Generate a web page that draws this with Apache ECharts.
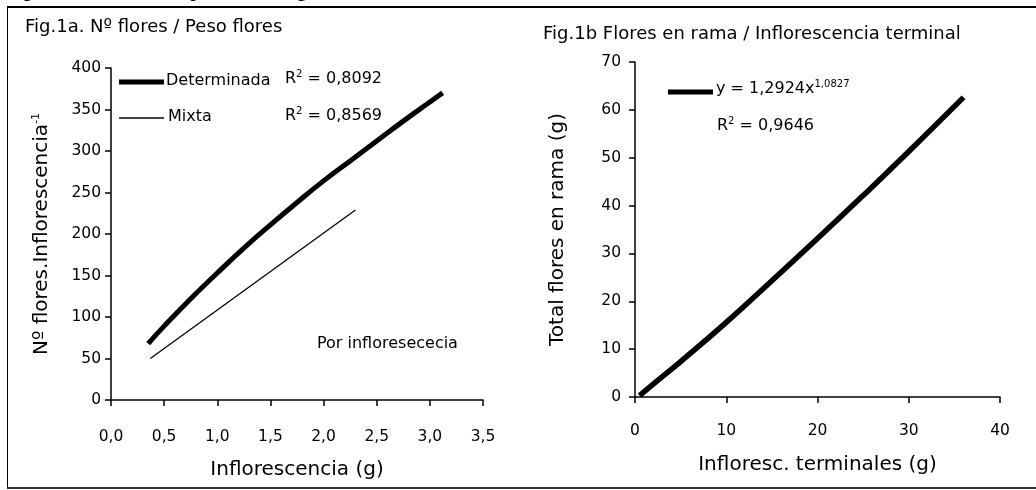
<!DOCTYPE html>
<html><head><meta charset="utf-8">
<script src="https://cdn.jsdelivr.net/npm/echarts@6/dist/echarts.min.js"></script>
<style>html,body{margin:0;padding:0;background:#fff}#c{width:1036px;height:490px}</style>
</head><body><div id="c"></div>
<script>
// Fig.1a data
const detX = [0.35, 0.5, 0.75, 1.0, 1.25, 1.5, 1.75, 2.0, 2.25, 2.5, 2.75, 3.0, 3.12];
const detY = [68, 89, 122, 153, 183, 211, 238, 264, 288, 312, 336, 359, 370];
const mixX = [0.37, 2.3];
const mixY = [50, 229];
// Fig.1b data
const terX = [0.5, 2, 5, 10, 15, 20, 25, 30, 36];
const terY = [0.3, 2.7, 7.4, 15.6, 24.3, 33.1, 42.1, 51.3, 62.6];
// tick labels
const xTicksA = ['0,0','0,5','1,0','1,5','2,0','2,5','3,0','3,5'];

const F = '"DejaVu Sans", Verdana, sans-serif';
const chart = echarts.init(document.getElementById('c'));
const pair = (xs, ys) => xs.map((x, i) => [x, ys[i]]);
const axisCommon = {
  axisLine: {lineStyle: {color: '#000', width: 1.5}},
  axisTick: {length: 6, lineStyle: {color: '#000', width: 1.5}},
  splitLine: {show: false},
  axisLabel: {color: '#000', fontFamily: F, fontSize: 15.5}
};
const rich = {
  n: {fontFamily: F, fontSize: 16, color: '#000'},
  s: {fontFamily: F, fontSize: 10, color: '#000', verticalAlign: 'top', padding: [0, 0, 9, 0]}
};
const nameStyle = {fontFamily: F, fontSize: 20, color: '#000'};
chart.setOption({
  animation: false,
  grid: [
    {left: 111, right: 553, top: 68, bottom: 90},
    {left: 635, right: 36, top: 62, bottom: 93}
  ],
  xAxis: [
    Object.assign({}, axisCommon, {gridIndex: 0, type: 'value', min: 0, max: 3.5, interval: 0.5,
      axisLabel: Object.assign({}, axisCommon.axisLabel, {margin: 29, formatter: v => xTicksA[Math.round(v / 0.5)]}),
      name: 'Inflorescencia (g)', nameLocation: 'middle', nameGap: 60, nameTextStyle: nameStyle}),
    Object.assign({}, axisCommon, {gridIndex: 1, type: 'value', min: 0, max: 40, interval: 10,
      axisLabel: Object.assign({}, axisCommon.axisLabel, {margin: 26}),
      name: 'Infloresc. terminales (g)', nameLocation: 'middle', nameGap: 58, nameTextStyle: nameStyle})
  ],
  yAxis: [
    Object.assign({}, axisCommon, {gridIndex: 0, type: 'value', min: 0, max: 400, interval: 50,
      axisLabel: Object.assign({}, axisCommon.axisLabel, {margin: 10}),
      name: '{a|Nº flores.Inflorescencia}{b|-1}', nameLocation: 'middle', nameGap: 58,
      nameTextStyle: {rich: {
        a: {fontFamily: F, fontSize: 20, color: '#000'},
        b: {fontFamily: F, fontSize: 11, color: '#000', verticalAlign: 'top', padding: [0, 0, 11, 0]}
      }}}),
    Object.assign({}, axisCommon, {gridIndex: 1, type: 'value', min: 0, max: 70, interval: 10,
      axisLabel: Object.assign({}, axisCommon.axisLabel, {margin: 14}),
      name: 'Total flores en rama (g)', nameLocation: 'middle', nameGap: 67, nameTextStyle: nameStyle})
  ],
  series: [
    {type: 'line', xAxisIndex: 0, yAxisIndex: 0, data: pair(detX, detY), smooth: true, showSymbol: false,
      lineStyle: {color: '#000', width: 5}},
    {type: 'line', xAxisIndex: 0, yAxisIndex: 0, data: pair(mixX, mixY), showSymbol: false,
      lineStyle: {color: '#000', width: 1.3}},
    {type: 'line', xAxisIndex: 1, yAxisIndex: 1, data: pair(terX, terY), smooth: true, showSymbol: false,
      lineStyle: {color: '#000', width: 5.5}}
  ],
  graphic: [
    // caption cut at top
    {type: 'text', left: 7, top: -17, style: {text: 'Figura 1. Relaciones de pesos entre órganos florales',
      font: 'bold 18px "Liberation Serif", serif', fill: '#000'}},
    // frame
    {type: 'line', shape: {x1: 7, y1: 7, x2: 1036, y2: 7}, style: {stroke: '#000', lineWidth: 2}},
    {type: 'line', shape: {x1: 7.5, y1: 7, x2: 7.5, y2: 488}, style: {stroke: '#000', lineWidth: 1}},
    {type: 'line', shape: {x1: 7, y1: 488, x2: 1036, y2: 488}, style: {stroke: '#333', lineWidth: 2}},
    // titles
    {type: 'text', left: 25, top: 18, style: {text: 'Fig.1a. Nº flores / Peso flores', font: '18px ' + F, fill: '#000'}},
    {type: 'text', left: 543, top: 25, style: {text: 'Fig.1b Flores en rama / Inflorescencia terminal', font: '18px ' + F, fill: '#000'}},
    // legend 1a
    {type: 'line', shape: {x1: 119, y1: 82, x2: 164, y2: 82}, style: {stroke: '#000', lineWidth: 5}},
    {type: 'text', left: 166, top: 73, style: {text: 'Determinada', font: '16px ' + F, fill: '#000'}},
    {type: 'text', left: 285, top: 69, style: {text: '{n|R}{s|2}{n| = 0,8092}', rich: rich}},
    {type: 'line', shape: {x1: 119, y1: 118, x2: 164, y2: 118}, style: {stroke: '#000', lineWidth: 1.3}},
    {type: 'text', left: 168, top: 109, style: {text: 'Mixta', font: '16px ' + F, fill: '#000'}},
    {type: 'text', left: 285, top: 106, style: {text: '{n|R}{s|2}{n| = 0,8569}', rich: rich}},
    {type: 'text', left: 317, top: 336, style: {text: 'Por infloresececia', font: '16px ' + F, fill: '#000'}},
    // legend 1b
    {type: 'line', shape: {x1: 668, y1: 92, x2: 713, y2: 92}, style: {stroke: '#000', lineWidth: 5}},
    {type: 'text', left: 716, top: 79, style: {text: '{n|y = 1,2924x}{s|1,0827}', rich: rich}},
    {type: 'text', left: 717, top: 116, style: {text: '{n|R}{s|2}{n| = 0,9646}', rich: rich}}
  ]
});
</script></body></html>
